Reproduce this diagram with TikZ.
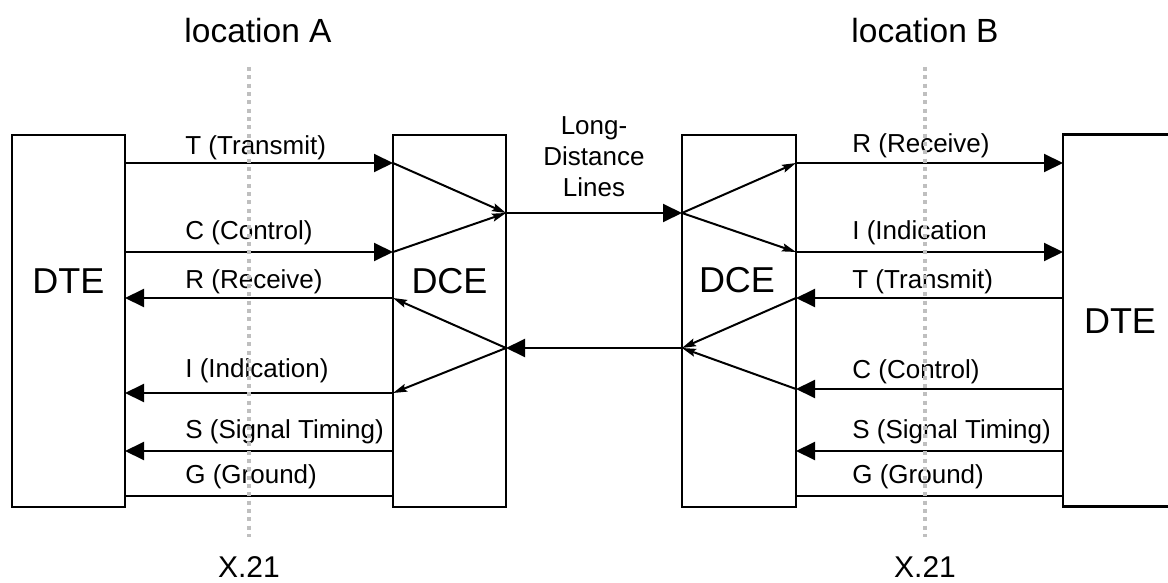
\documentclass[tikz,border=0pt]{standalone}
\usepackage{fontspec}
\setmainfont{Liberation Sans}
\usetikzlibrary{arrows.meta, positioning}

\begin{document}
\begin{tikzpicture}[x=0.5pt, y=-0.5pt,
  unit/.style={draw, line width=1.3pt, minimum width=56.5pt, minimum height=186pt, inner sep=0pt, outer sep=0pt},
  unitname/.style={font=\fontsize{18}{20}\selectfont, anchor=base, inner sep=0pt},
  sig/.style={font=\fontsize{13}{15.5}\selectfont, anchor=base west, inner sep=0pt},
  place/.style={font=\fontsize{16.75}{20}\selectfont, anchor=base, inner sep=0pt},
  iface/.style={font=\fontsize{15}{18}\selectfont, anchor=base, inner sep=0pt},
  wire/.style={line width=1pt},
  bigtip/.style={wire, -{Triangle[length=9.5pt, width=9pt]}},
  smalltip/.style={wire, -{Stealth[length=7pt, width=4pt, inset=1.2pt]}},
  border/.style={draw=gray!50, line width=2pt, dash pattern=on 2pt off 2.17pt}]
  \useasboundingbox (0,0) rectangle (1168,583);

  % rows of the signal lines
  \coordinate (r1) at (0,163);
  \coordinate (r2) at (0,252);
  \coordinate (r3) at (0,298);
  \coordinate (r4a) at (0,393);
  \coordinate (r4b) at (0,389);
  \coordinate (r5) at (0,451);
  \coordinate (r6) at (0,496);
  \coordinate (up) at (0,213);
  \coordinate (down) at (0,348);

  % Boxes
  \node[unit] (dteA) at (68.5,321) {};
  \node[unit] (dceA) at (449.5,321) {};
  \node[unit, minimum width=57pt] (dceB) at (739,321) {};
  \node[unit] (dteB) at (1119.5,320.5) {};
  \node[unitname] (dteAname) at (68.5,293) {DTE};
  \node[unitname] (dceAname) at (449.5,293) {DCE};
  \node[unitname] (dceBname) at (737,292) {DCE};
  \node[unitname] (dteBname) at (1120,333) {DTE};

  % location A
  \node[sig] (tA) at (185,155) {T (Transmit)};
  \node[sig] (cA) at (185,240) {C (Control)};
  \node[sig] (rA) at (185,288) {R (Receive)};
  \node[sig] (iA) at (185,377) {I (Indication)};
  \node[sig] (sA) at (185,438) {S (Signal Timing)};
  \node[sig] (gA) at (185,483) {G (Ground)};
  \draw[bigtip] (dteA.east |- r1) -- (dceA.west |- r1);
  \draw[bigtip] (dteA.east |- r2) -- (dceA.west |- r2);
  \draw[bigtip] (dceA.west |- r3) -- (dteA.east |- r3);
  \draw[bigtip] (dceA.west |- r4a) -- (dteA.east |- r4a);
  \draw[bigtip] (dceA.west |- r5) -- (dteA.east |- r5);
  \draw[wire] (dceA.west |- r6) -- (dteA.east |- r6);
  \draw[smalltip] (dceA.west |- r1) -- (dceA.east |- up);
  \draw[smalltip] (dceA.west |- r2) -- (dceA.east |- up);
  \draw[smalltip] (dceA.east |- down) -- (dceA.west |- r3);
  \draw[smalltip] (dceA.east |- down) -- (dceA.west |- r4a);

  % Long-distance lines
  \node[sig, anchor=base, align=center] (ldl) at (594,197) {Long-\\Distance\\Lines};
  \draw[bigtip] (dceA.east |- up) -- (dceB.west |- up);
  \draw[bigtip] (dceB.west |- down) -- (dceA.east |- down);

  % location B
  \node[sig] (rB) at (852,153) {R (Receive)};
  \node[sig] (iB) at (852,239) {I (Indication};
  \node[sig] (tB) at (852,288) {T (Transmit)};
  \node[sig] (cB) at (852,378) {C (Control)};
  \node[sig] (sB) at (852,438) {S (Signal Timing)};
  \node[sig] (gB) at (852,483) {G (Ground)};
  \draw[smalltip] (dceB.west |- up) -- (dceB.east |- r1);
  \draw[smalltip] (dceB.west |- up) -- (dceB.east |- r2);
  \draw[smalltip] (dceB.east |- r3) -- (dceB.west |- down);
  \draw[smalltip] (dceB.east |- r4b) -- (dceB.west |- down);
  \draw[bigtip] (dceB.east |- r1) -- (dteB.west |- r1);
  \draw[bigtip] (dceB.east |- r2) -- (dteB.west |- r2);
  \draw[bigtip] (dteB.west |- r3) -- (dceB.east |- r3);
  \draw[bigtip] (dteB.west |- r4b) -- (dceB.east |- r4b);
  \draw[bigtip] (dteB.west |- r5) -- (dceB.east |- r5);
  \draw[wire] (dteB.west |- r6) -- (dceB.east |- r6);

  % X.21 borders
  \node[place] (locA) at (258,43) {location A};
  \node[place] (locB) at (925,43) {location B};
  \node[iface] (x21A) at (249,577) {X.21};
  \node[iface] (x21B) at (925,577) {X.21};
  \coordinate (bA1) at (249,67);
  \coordinate (bA2) at (249,537);
  \coordinate (bB1) at (925,67);
  \coordinate (bB2) at (925,537);
  \draw[border] (bA1) -- (bA2);
  \draw[border] (bB1) -- (bB2);
\end{tikzpicture}
\end{document}
